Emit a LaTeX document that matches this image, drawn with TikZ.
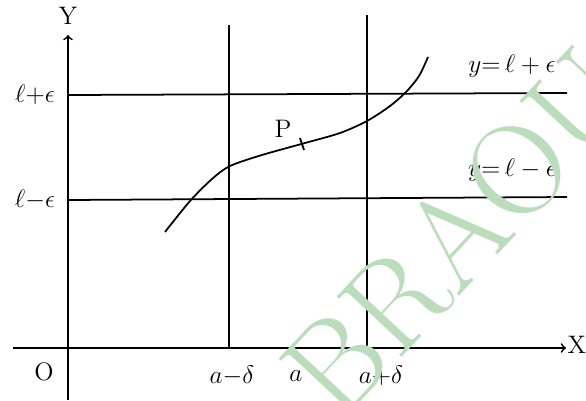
\documentclass[tikz,border=0pt]{standalone}
\usepackage{amsmath,amssymb}
\usetikzlibrary{arrows,positioning,calc}

\definecolor{wmgreen}{RGB}{187,221,187}

\begin{document}
\begin{tikzpicture}[x=0.02cm,y=-0.02cm,
  axis/.style={->,line width=1pt},
  guide/.style={line width=1pt},
  lab/.style={font=\Large,inner sep=1pt},
  wmark/.style={font=\fontsize{74}{74}\selectfont,text=wmgreen,rotate=47}]
\useasboundingbox (0,0) rectangle (586,400);
% axes
\coordinate (o) at (68,348);
\coordinate (ybot) at (68,400);
\coordinate (ytop) at (68,35);
\coordinate (xleft) at (13,348);
\coordinate (xright) at (566,348);
\path[axis]
(ybot) edge (ytop)
(xleft) edge (xright)
;
\node[lab] (Y) at (68,16) {Y};
\node[lab] (X) at (577,345) {X};
\node[lab] (O) at (44,372) {O};
% horizontal lines
\coordinate (hp0) at (68,95);
\coordinate (hp1) at (567,93);
\coordinate (hm0) at (68,200);
\coordinate (hm1) at (567,197);
\path[guide]
(hp0) edge (hp1)
(hm0) edge (hm1)
;
\node[lab] (lp) at (35,95) {$\ell{+}\epsilon$};
\node[lab] (lm) at (35,200) {$\ell{-}\epsilon$};
\node[lab] (yp) at (512,66) {$y{=}\,\ell+\epsilon$};
\node[lab] (ym) at (512,170) {$y{=}\,\ell-\epsilon$};
% vertical lines
\coordinate (vm0) at (229,25);
\coordinate (vm1) at (229,348);
\coordinate (vp0) at (367,15);
\coordinate (vp1) at (367,350);
\path[guide]
(vm0) edge (vm1)
(vp0) edge (vp1)
;
\node[lab] (amd) at (232,376) {$a{-}\delta$};
\node[lab] (a) at (296,376) {$a$};
\node[lab] (apd) at (381,376) {$a{+}\delta$};
% the curve
\draw[line width=1pt] plot[smooth,tension=0.5] coordinates
  {(165,232) (190,201) (212,179) (230,166) (262,155) (305,143)
   (340,133) (367,121) (390,106) (406,92) (419,76) (428,57)};
\coordinate (p) at (302,144);
\draw[line width=1pt] (p) ++(-2,-6) -- ++(4,12);
\node[lab] (P) at (283,129) {P};
% watermark
\node[wmark] (wm) at (458,232) {BRAOU};
\end{tikzpicture}
\end{document}
